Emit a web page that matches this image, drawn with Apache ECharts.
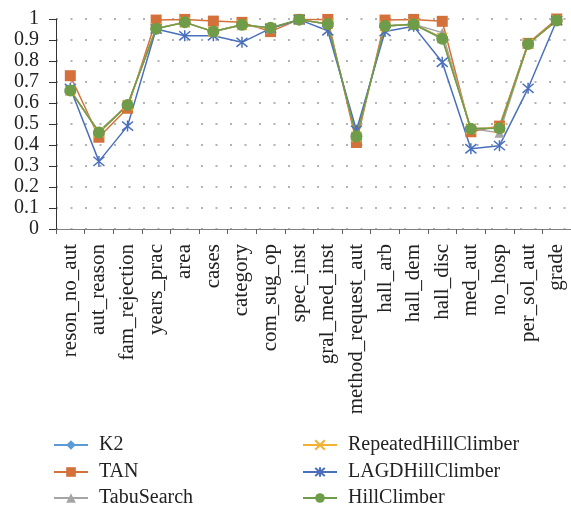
<!DOCTYPE html>
<html>
<head>
<meta charset="utf-8">
<script src="https://cdn.jsdelivr.net/npm/echarts@6/dist/echarts.min.js"></script>
<style>html,body{margin:0;padding:0;background:#fff}#c{width:571px;height:511px}</style>
</head>
<body>
<div id="c"></div>
<script>
var categories = ['reson_no_aut','aut_reason','fam_rejection','years_prac','area','cases','category','com_sug_op','spec_inst','gral_med_inst','method_request_aut','hall_arb','hall_dem','hall_disc','med_aut','no_hosp','per_sol_aut','grade'];
var k2       = [0.66, 0.46, 0.59, 0.955, 0.984, 0.94, 0.973, 0.956, 0.997, 0.976, 0.44, 0.967, 0.975, 0.91, 0.478, 0.481, 0.881, 0.993];
var tan      = [0.73, 0.437, 0.575, 0.995, 0.998, 0.99, 0.984, 0.94, 0.998, 0.998, 0.412, 0.995, 0.998, 0.989, 0.463, 0.49, 0.884, 1.0];
var tabu     = [0.66, 0.465, 0.59, 0.955, 0.985, 0.94, 0.97, 0.956, 0.997, 0.976, 0.44, 0.967, 0.975, 0.935, 0.478, 0.458, 0.881, 0.993];
var repeated = [0.66, 0.46, 0.59, 0.955, 0.984, 0.94, 0.973, 0.956, 0.997, 0.976, 0.44, 0.967, 0.975, 0.91, 0.478, 0.481, 0.881, 0.993];
var lagd     = [0.67, 0.322, 0.49, 0.952, 0.92, 0.92, 0.889, 0.955, 0.997, 0.944, 0.47, 0.94, 0.965, 0.794, 0.382, 0.397, 0.67, 0.993];
var hill     = [0.66, 0.46, 0.59, 0.954, 0.984, 0.94, 0.973, 0.958, 0.997, 0.976, 0.44, 0.967, 0.975, 0.906, 0.477, 0.48, 0.881, 0.993];
var seriesNames = ['K2','TAN','TabuSearch','RepeatedHillClimber','LAGDHillClimber','HillClimber'];

var FONT = '"Liberation Serif", "DejaVu Serif", serif';
var chart = echarts.init(document.getElementById('c'), null, {renderer:'canvas'});

function mk(name, data, color, symbol, size, strokeOnly) {
  return {
    name: name, type: 'line', data: data,
    symbol: symbol, symbolSize: size,
    lineStyle: {color: color, width: 1.5},
    itemStyle: strokeOnly ? {color: 'rgba(0,0,0,0)', borderColor: color, borderWidth: 1.5} : {color: color},
    emphasis: {disabled: true},
    animation: false
  };
}

var legendText = {fontFamily: FONT, fontSize: 20, color: '#222', padding: [0, 0, 0, 6]};
var legendLeft = [53, 53, 53, 302, 302, 302];
var legendTop = [435, 462, 488, 435, 462, 488];
var legends = seriesNames.map(function (n, i) {
  return {data: [n], orient: 'vertical', left: legendLeft[i], top: legendTop[i], padding: 0,
    itemWidth: 34, itemHeight: 12, textStyle: legendText};
});

chart.setOption({
  animation: false,
  grid: {left: 56, right: -7, top: 19, bottom: 282, containLabel: false},
  xAxis: {
    type: 'category', data: categories, boundaryGap: true,
    axisLine: {lineStyle: {color: '#808080', width: 1}},
    axisTick: {show: true, length: 5, lineStyle: {color: '#606060'}},
    axisLabel: {rotate: 90, margin: 15, color: '#222', fontFamily: FONT, fontSize: 21, interval: 0},
    splitLine: {show: false}
  },
  yAxis: {
    type: 'value', min: 0, max: 1, interval: 0.1,
    axisLine: {show: true, lineStyle: {color: '#333', width: 1}},
    axisTick: {show: true, length: 7, lineStyle: {color: '#333'}},
    axisLabel: {margin: 17, color: '#222', fontFamily: FONT, fontSize: 20,
      formatter: function (v) { return String(Math.round(v * 10) / 10); }},
    splitLine: {show: true, lineStyle: {color: '#9a9a9a', type: [2, 12.5], width: 1.5}}
  },
  legend: legends,
  series: [
    mk('K2', k2, '#5B9BD5', 'diamond', 11),
    mk('TAN', tan, '#D4703A', 'rect', 11),
    mk('TabuSearch', tabu, '#A5A5A5', 'triangle', 10),
    mk('RepeatedHillClimber', repeated, '#F2B134', 'path://M0,0L10,10M10,0L0,10', 10, true),
    mk('LAGDHillClimber', lagd, '#4A70BC', 'path://M0,0L10,10M10,0L0,10M5,-1L5,11', 11, true),
    mk('HillClimber', hill, '#6E9C48', 'circle', 12)
  ]
});
</script>
</body>
</html>
